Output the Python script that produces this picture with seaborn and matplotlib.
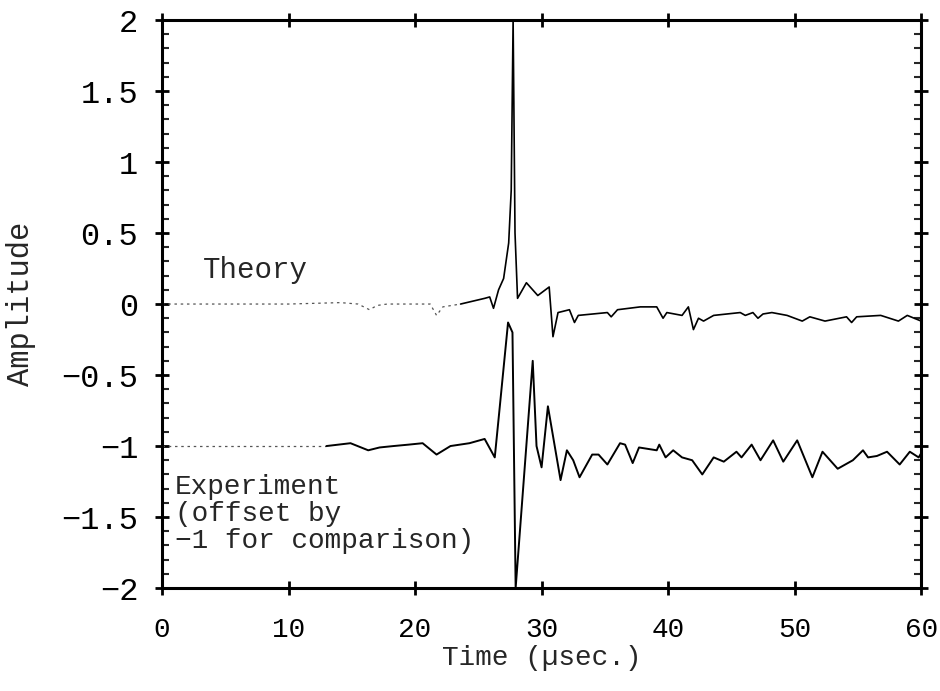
import numpy as np
import pandas as pd
import matplotlib
matplotlib.use("Agg")
import matplotlib.pyplot as plt
import seaborn as sns
from matplotlib.ticker import MultipleLocator

# Theory trace
theory_t = [0, 10, 14.1, 15.5, 16.4, 17.0, 17.8, 21.2, 21.7, 22.2, 23.6, 25.5, 25.9,
            26.2, 26.6, 27.0, 27.4, 27.6, 27.75, 27.9, 28.1, 28.8, 29.7, 30.6, 30.9,
            31.3, 32.2, 32.6, 32.9, 35.2, 35.5, 36.0, 37.8, 39.1, 39.6, 39.9, 41.1,
            41.6, 42.0, 42.4, 42.8, 43.6, 45.7, 46.1, 46.7, 47.1, 47.5, 48.2, 49.4,
            50.6, 51.2, 52.4, 54.1, 54.5, 54.9, 56.8, 58.2, 58.9, 60]
theory_y = [0, 0, 0.01, 0.0, -0.04, -0.01, 0.0, 0.0, -0.08, -0.02, 0.0, 0.04, 0.05,
            -0.03, 0.10, 0.18, 0.43, 0.80, 2.0, 0.5, 0.04, 0.15, 0.06, 0.12, -0.23,
            -0.06, -0.04, -0.13, -0.08, -0.06, -0.09, -0.04, -0.02, -0.02, -0.10, -0.06, -0.08,
            -0.02, -0.18, -0.10, -0.12, -0.08, -0.06, -0.08, -0.06, -0.10, -0.07, -0.06, -0.08,
            -0.12, -0.09, -0.12, -0.09, -0.13, -0.09, -0.08, -0.12, -0.08, -0.12]

# Experiment trace, already offset by -1
exp_t = [0, 10, 13, 14.9, 16.3, 17.2, 18.3, 19.5, 20.6, 21.7, 22.8, 24.3, 25.5,
         26.3, 26.7, 27.35, 27.7, 27.95, 29.3, 29.6, 30.0, 30.5, 31.5, 32.0, 32.5,
         33.0, 34.0, 34.5, 35.2, 36.2, 36.6, 37.2, 37.7, 39.1, 39.3, 39.8, 40.4,
         41.1, 41.9, 42.7, 43.6, 44.4, 45.4, 45.8, 46.6, 47.3, 48.3, 49.1, 50.2,
         51.4, 52.2, 53.4, 54.6, 55.4, 55.8, 56.5, 57.3, 58.3, 59.1, 59.8, 60]
exp_y = [-1, -1, -1.0, -0.98, -1.03, -1.01, -1.0, -0.99, -0.98, -1.06, -1.0, -0.98, -0.95,
         -1.08, -0.72, -0.13, -0.20, -2.0, -0.40, -1.0, -1.15, -0.72, -1.24, -1.03, -1.10,
         -1.22, -1.06, -1.06, -1.13, -0.98, -0.99, -1.12, -1.01, -1.03, -0.99, -1.08, -1.03,
         -1.08, -1.10, -1.20, -1.08, -1.11, -1.04, -1.08, -0.99, -1.10, -0.96, -1.11, -0.96,
         -1.22, -1.04, -1.16, -1.10, -1.03, -1.08, -1.07, -1.04, -1.13, -1.04, -1.08, -1.05]

x_ticks = [0, 10, 20, 30, 40, 50, 60]
y_ticks = [-2, -1.5, -1, -0.5, 0, 0.5, 1, 1.5, 2]
y_labels = ["\u22122", "\u22121.5", "\u22121", "\u22120.5", "0", "0.5", "1", "1.5", "2"]

sns.set_style("ticks")
plt.rcParams["font.family"] = ["Liberation Mono", "DejaVu Sans Mono"]

theory = pd.DataFrame({"t": theory_t, "y": theory_y})
exp = pd.DataFrame({"t": exp_t, "y": exp_y})

fig = plt.figure(figsize=(9.4, 6.91), dpi=100)
ax = fig.add_axes([0.1723, 0.149, 0.8077, 0.822])

# faint, broken-looking early parts of both traces
sns.lineplot(data=theory[theory.t <= 23.6], x="t", y="y", ax=ax, estimator=None, sort=False,
             color="#555555", lw=0.9, linestyle=(0, (2, 3)))
sns.lineplot(data=theory[theory.t >= 23.6], x="t", y="y", ax=ax, estimator=None, sort=False,
             color="black", lw=1.2)
sns.lineplot(data=exp[exp.t <= 13], x="t", y="y", ax=ax, estimator=None, sort=False,
             color="#555555", lw=0.9, linestyle=(0, (2, 3)))
sns.lineplot(data=exp[exp.t >= 13], x="t", y="y", ax=ax, estimator=None, sort=False,
             color="black", lw=1.4)

ax.set_xlim(0, 60)
ax.set_ylim(-2, 2)
ax.set_xticks(x_ticks)
ax.set_xticklabels([str(v) for v in x_ticks])
ax.set_yticks(y_ticks)
ax.set_yticklabels(y_labels)
ax.yaxis.set_minor_locator(MultipleLocator(0.1))

for s in ax.spines.values():
    s.set_visible(True)
    s.set_linewidth(2.2)
    s.set_color("black")

ax.tick_params(which="major", direction="inout", length=10, width=2,
               top=True, right=True, colors="black")
ax.tick_params(axis="x", which="major", pad=16, labelsize=20)
ax.tick_params(axis="y", which="major", pad=12, labelsize=23)
ax.tick_params(which="minor", direction="in", length=5, width=1.5, left=True, right=True)

ax.set_xlabel("Time (\u00b5sec.)", fontsize=20, labelpad=1)
ax.set_ylabel("Amplitude", fontsize=22, labelpad=18)

ax.text(3.2, 0.14, "Theory", fontsize=21, ha="left", va="bottom")
ax.text(1.0, -1.2, "Experiment\n(offset by\n\u22121 for comparison)", fontsize=20,
        ha="left", va="top", linespacing=1.05)

fig.savefig("out.png", dpi=100)
